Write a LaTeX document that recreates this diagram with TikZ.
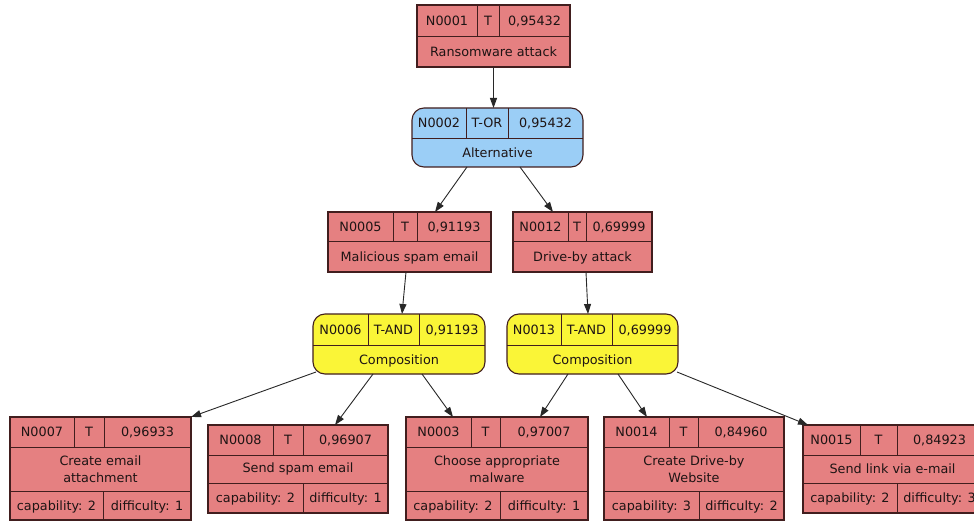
\documentclass[tikz,border=0pt]{standalone}
\usepackage{fontspec}
\setmainfont{DejaVu Sans}
\usetikzlibrary{arrows.meta}

\definecolor{attackfill}{RGB}{229,128,129}
\definecolor{orfill}{RGB}{155,206,246}
\definecolor{andfill}{RGB}{250,245,55}
\definecolor{boxline}{RGB}{65,30,30}
\definecolor{edgeline}{RGB}{40,40,40}
\definecolor{inktext}{RGB}{30,20,20}

\tikzset{
  cell/.style={draw=boxline, line width=1.1pt, inner sep=0pt, outer sep=0pt, anchor=north west},
  attack/.style={cell, fill=attackfill},
  orgate/.style={cell, fill=orfill, rounded corners=12pt},
  andgate/.style={cell, fill=andfill, rounded corners=12pt},
  divider/.style={draw=boxline, line width=1pt},
  lbl/.style={inner sep=0pt, text=inktext, font=\fontsize{12.8}{16.5}\selectfont},
  one/.style={lbl, text height=11pt, text depth=2pt},
  two/.style={lbl, align=center},
  link/.style={draw=edgeline, line width=0.9pt, -{Triangle[length=10pt,width=7pt]}},
}

% texts of a two-row box (id, type, value, label)
\newcommand\settop[4]{\def\tid{#1}\def\ttype{#2}\def\tval{#3}\def\tlab{#4}}
% two-row box: name, style, left,top,right,bottom,row split,column 1,column 2
\def\topbox#1#2#3,#4,#5,#6,#7,#8,#9\relax{%
  \node[#2, minimum width={(#5)-(#3)}, minimum height={(#6)-(#4)}] (#1) at (#3,-#4) {};
  \draw[divider] (#3,-#7) -- (#5,-#7) (#8,-#4) -- (#8,-#7) (#9,-#4) -- (#9,-#7);
  \node[one] (#1-id)   at ({(#3+#8)/2},{-(#4+#7)/2}) {\tid};
  \node[one] (#1-type) at ({(#8+#9)/2},{-(#4+#7)/2}) {\ttype};
  \node[one] (#1-val)  at ({(#9+#5)/2},{-(#4+#7)/2}) {\tval};
  \node[one] (#1-lab)  at ({(#3+#5)/2},{-(#7+#6)/2}) {\tlab};
}

% texts of a leaf (name, id, type, value, label, capability, difficulty)
\newcommand\setleaf[7]{\def\lname{#1}\def\tid{#2}\def\ttype{#3}\def\tval{#4}\def\tlab{#5}\def\tcap{#6}\def\tdif{#7}}
% three-row leaf: left,top,right,row 1,row 2,bottom,column 1,column 2,bottom column
\def\leafbox#1,#2,#3,#4,#5,#6,#7,#8,#9\relax{%
  \node[attack, minimum width={(#3)-(#1)}, minimum height={(#6)-(#2)}] (\lname) at (#1,-#2) {};
  \draw[divider] (#1,-#4) -- (#3,-#4) (#1,-#5) -- (#3,-#5)
                 (#7,-#2) -- (#7,-#4) (#8,-#2) -- (#8,-#4) (#9,-#5) -- (#9,-#6);
  \node[one] (\lname-id)   at ({(#1+#7)/2},{-(#2+#4)/2}) {\tid};
  \node[one] (\lname-type) at ({(#7+#8)/2},{-(#2+#4)/2}) {\ttype};
  \node[one] (\lname-val)  at ({(#8+#3)/2},{-(#2+#4)/2}) {\tval};
  \node[two] (\lname-lab)  at ({(#1+#3)/2},{-(#4+#5)/2}) {\tlab};
  \node[one] (\lname-cap)  at ({(#1+#9)/2},{-(#5+#6)/2}) {\tcap};
  \node[one] (\lname-dif)  at ({(#9+#3)/2},{-(#5+#6)/2}) {\tdif};
}

\begin{document}
\begin{tikzpicture}[x=1pt, y=1pt]
  \fill[white] (0,0) rectangle (974,-521);
  \useasboundingbox (0,0) rectangle (974,-521);

  % root, gate and intermediate steps
  \settop{N0001}{T}{0,95432}{Ransomware attack}
  \topbox{n1}{attack}417,5,570,67,37,477,499\relax
  \settop{N0002}{T-OR}{0,95432}{Alternative}
  \topbox{n2}{orgate}412,108,583,167,139,466,508\relax
  \settop{N0005}{T}{0,91193}{Malicious spam email}
  \topbox{n5}{attack}328,212,491,272,242,393,417\relax
  \settop{N0012}{T}{0,69999}{Drive-by attack}
  \topbox{n12}{attack}513,212,652,272,242,568,586\relax
  \settop{N0006}{T-AND}{0,91193}{Composition}
  \topbox{n6}{andgate}313,314,485,374,345,368,419\relax
  \settop{N0013}{T-AND}{0,69999}{Composition}
  \topbox{n13}{andgate}507,314,678,374,345,561,612\relax

  % leaves
  \setleaf{n7}{N0007}{T}{0,96933}{Create email\\attachment}{capability: 2}{difficulty: 1}
  \leafbox 10,417,191,447,491,520,74,104,103\relax
  \setleaf{n8}{N0008}{T}{0,96907}{Send spam email}{capability: 2}{difficulty: 1}
  \leafbox 208,425,388,455,483,513,273,303,303\relax
  \setleaf{n3}{N0003}{T}{0,97007}{Choose appropriate\\malware}{capability: 2}{difficulty: 1}
  \leafbox 406,417,588,447,491,520,471,500,500\relax
  \setleaf{n14}{N0014}{T}{0,84960}{Create Drive-by\\Website}{capability: 3}{difficulty: 2}
  \leafbox 604,417,784,447,491,520,669,698,699\relax
  \setleaf{n15}{N0015}{T}{0,84923}{Send link via e-mail}{capability: 2}{difficulty: 3}
  \leafbox 803,425,982,455,483,513,860,897,897\relax

  % connectors
  \draw[link] (n1.south) -- (n1.south |- n2.north);
  \draw[link] ([xshift=-30.5pt]n2.south) -- ([xshift=25.5pt]n5.north);
  \draw[link] ([xshift=22.5pt]n2.south) -- ([xshift=-29.5pt]n12.north);
  \draw[link] ([xshift=-3.5pt]n5.south) -- ([xshift=3pt]n6.north);
  \draw[link] ([xshift=3.5pt]n12.south) -- ([xshift=-4.5pt]n13.north);
  \draw[link] ([shift={(3pt,2pt)}]n6.south west) -- (n7.north east);
  \draw[link] ([xshift=-26pt]n6.south) -- ([xshift=37pt]n8.north);
  \draw[link] ([xshift=23pt]n6.south) -- ([xshift=-44pt]n3.north);
  \draw[link] ([xshift=-24.5pt]n13.south) -- ([xshift=43pt]n3.north);
  \draw[link] ([xshift=25.5pt]n13.south) -- ([xshift=-47pt]n14.north);
  \draw[link] ([shift={(-1pt,2pt)}]n13.south east) -- ([xshift=5pt]n15.north west);
\end{tikzpicture}
\end{document}
